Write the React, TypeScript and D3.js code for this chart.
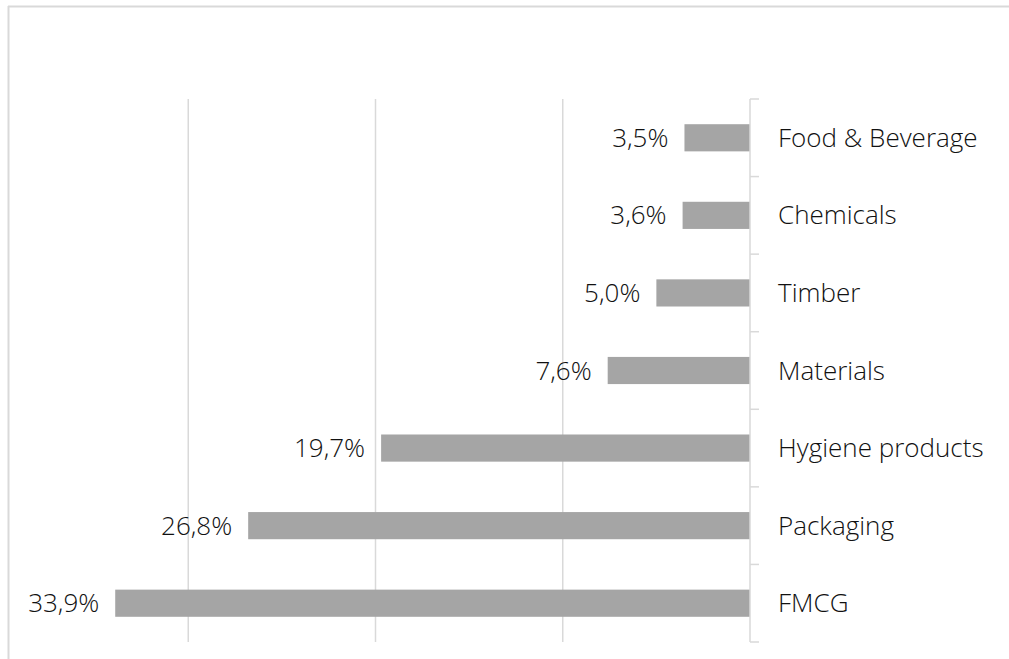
import React from "react";
import * as d3 from "d3";

const categories = ["Food & Beverage", "Chemicals", "Timber", "Materials", "Hygiene products", "Packaging", "FMCG"];
const values = [3.5, 3.6, 5.0, 7.6, 19.7, 26.8, 33.9];
const gridTicks = [0, 10, 20, 30];

export default function App() {
  const W = 1009, H = 659;
  const x = d3.scaleLinear().domain([0, 40]).range([750, 1]);
  const y = d3.scaleBand().domain(categories).range([99, 642]).paddingInner(0.65).paddingOuter(0.325);
  const band = d3.scaleBand().domain(categories).range([99, 642]);
  const fmt = (v: number) => v.toFixed(1).replace(".", ",") + "%";
  const font = "'Open Sans', 'Segoe UI', sans-serif";
  const boundaries = [...categories.map((c) => band(c)!), 642];
  return (
    <svg width={W} height={H} style={{ position: "absolute", left: 0, top: 0, background: "#fff", display: "block" }}>
      <line x1={8} x2={W} y1={6.5} y2={6.5} stroke="#d9d9d9" strokeWidth={2} />
      <line x1={8.5} x2={8.5} y1={6} y2={H} stroke="#d9d9d9" strokeWidth={2} />
      {gridTicks.filter((t) => t > 0).map((t) => (
        <line key={t} x1={x(t)} x2={x(t)} y1={99} y2={642} stroke="#d9d9d9" strokeWidth={1.5} />
      ))}
      {categories.map((c, i) => (
        <rect key={c} x={x(values[i])} y={y(c)!} width={x(0) - x(values[i])} height={y.bandwidth()} fill="#a5a5a5" />
      ))}
      <line x1={x(0)} x2={x(0)} y1={99} y2={642} stroke="#d9d9d9" strokeWidth={1.5} />
      {boundaries.map((b, i) => (
        <line key={i} x1={x(0)} x2={x(0) + 9} y1={b} y2={b} stroke="#d9d9d9" strokeWidth={1.5} />
      ))}
      {categories.map((c, i) => (
        <text key={"v" + c} x={x(values[i]) - 16} y={band(c)! + band.bandwidth() / 2} dy="0.35em"
          textAnchor="end" fontFamily={font} fontWeight={300} fontSize={26} fill="#111">
          {fmt(values[i])}
        </text>
      ))}
      {categories.map((c) => (
        <text key={"c" + c} x={778} y={band(c)! + band.bandwidth() / 2} dy="0.35em"
          fontFamily={font} fontWeight={300} fontSize={26} fill="#111">
          {c}
        </text>
      ))}
    </svg>
  );
}
